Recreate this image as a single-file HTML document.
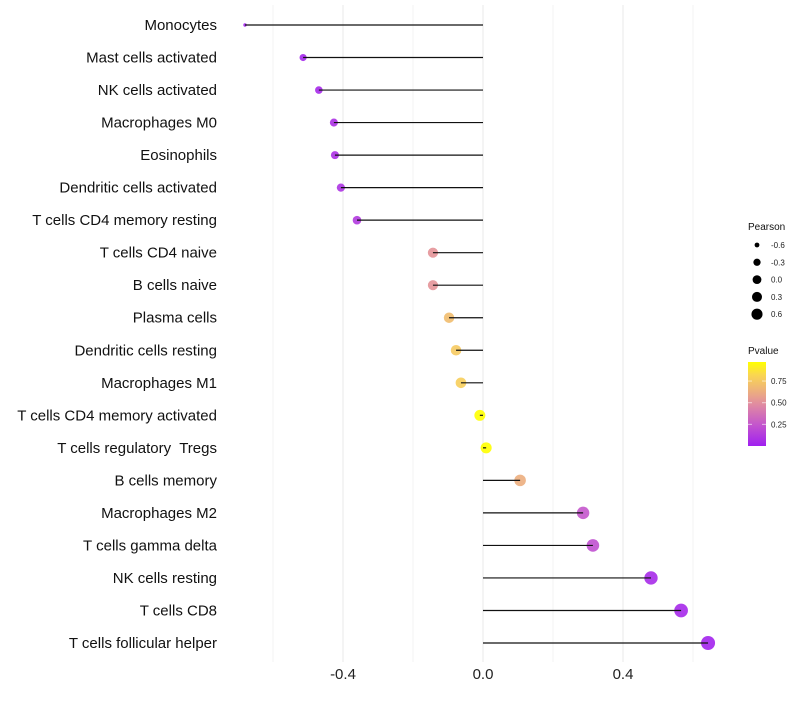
<!DOCTYPE html>
<html><head><meta charset="utf-8"><style>
body{margin:0;background:#fff}
svg text{font-family:"Liberation Sans",sans-serif;white-space:pre}
</style></head><body>
<svg id="chart" width="800" height="700" xmlns="http://www.w3.org/2000/svg">
<g id="grid"></g>
<g id="marks"></g>
<g id="ylabels"></g>
<g id="xlabels"></g>
<g id="legend"></g>
</svg>
<script>
const categories=["Monocytes","Mast cells activated","NK cells activated","Macrophages M0","Eosinophils","Dendritic cells activated","T cells CD4 memory resting","T cells CD4 naive","B cells naive","Plasma cells","Dendritic cells resting","Macrophages M1","T cells CD4 memory activated","T cells regulatory  Tregs","B cells memory","Macrophages M2","T cells gamma delta","NK cells resting","T cells CD8","T cells follicular helper"];
const pearson=[-0.68,-0.514,-0.469,-0.426,-0.423,-0.406,-0.36,-0.143,-0.143,-0.097,-0.077,-0.063,-0.009,0.009,0.106,0.286,0.314,0.48,0.566,0.643];
const pvalue=[0.02,0.03,0.04,0.08,0.08,0.09,0.12,0.52,0.52,0.7,0.76,0.78,0.97,0.97,0.63,0.25,0.22,0.05,0.04,0.02];
const xTicks=[-0.4,0,0.4];
const xTickLabels=["-0.4","0.0","0.4"];
const xMinor=[-0.6,-0.2,0.2,0.6];
const legendPearson=[-0.6,-0.3,0.0,0.3,0.6];
const legendPearsonLabels=["-0.6","-0.3","0.0","0.3","0.6"];
const legendP=[0.75,0.5,0.25];
const legendPLabels=["0.75","0.50","0.25"];

const NS="http://www.w3.org/2000/svg";
const X=v=>483+v*350;
const Y=i=>25+i*(618/19);
const R=v=>1.7+5.3*Math.sqrt(Math.max(0,(v+0.68)/1.32));
const pmin=0,pmax=0.97;
const stops=[[0,[160,32,240]],[0.25,[195,85,205]],[0.5,[225,140,160]],[0.7,[240,185,115]],[0.85,[250,215,80]],[1,[255,255,0]]];
function col(p){const t=Math.max(0,Math.min(1,(p-pmin)/(pmax-pmin)));
 for(let k=1;k<stops.length;k++){if(t<=stops[k][0]){const [t0,a]=stops[k-1],[t1,b]=stops[k];const f=(t-t0)/(t1-t0);
  return `rgb(${a.map((c,j)=>Math.round(c+(b[j]-c)*f)).join(',')})`;}}
 return 'rgb(255,255,0)';}
function mk(tag,attrs,parent){const e=document.createElementNS(NS,tag);for(const k in attrs)e.setAttribute(k,attrs[k]);parent.appendChild(e);return e;}
const grid=document.getElementById('grid'),marks=document.getElementById('marks'),yl=document.getElementById('ylabels'),xl=document.getElementById('xlabels'),lg=document.getElementById('legend');
xMinor.forEach(v=>{const l=mk('line',{x1:X(v),x2:X(v),y1:5,y2:662,stroke:'#f3f3f3','stroke-width':1},grid);

});
xTicks.forEach((v,i)=>{const l=mk('line',{x1:X(v),x2:X(v),y1:5,y2:662,stroke:'#ebebeb','stroke-width':1.1},grid);


const t=mk('text',{x:X(v),y:679,'text-anchor':'middle','font-size':15,fill:'#222'},xl);t.textContent=xTickLabels[i];

});
categories.forEach((c,i)=>{
 const y=Y(i);
 const t=mk('text',{x:217,y:y+5,'text-anchor':'end','font-size':15,fill:'#111'},yl);t.textContent=c;
 
 
 const p=mk('circle',{cx:X(pearson[i]),cy:y,r:R(pearson[i]),fill:col(pvalue[i]),'fill-opacity':0.9},marks);
 
 
 const l=mk('line',{x1:X(0),x2:X(pearson[i]),y1:y,y2:y,stroke:'#111','stroke-width':1.2},marks);
 
 
});
let t=mk('text',{x:748,y:230,'font-size':10,fill:'#111'},lg);t.textContent="Pearson";


legendPearson.forEach((v,i)=>{const y=245+i*17.3;
 const c=mk('circle',{cx:757,cy:y,r:R(v)*0.8,fill:'#000'},lg);
 
 
 const tt=mk('text',{x:771,y:y+3,'font-size':8,fill:'#222'},lg);tt.textContent=legendPearsonLabels[i];
 
 });
t=mk('text',{x:748,y:354,'font-size':10,fill:'#111'},lg);t.textContent="Pvalue";


const defs=mk('defs',{},lg);const gr=mk('linearGradient',{id:'pg',x1:0,y1:1,x2:0,y2:0},defs);
for(let f=0;f<=1.0001;f+=0.05)mk('stop',{offset:f,'stop-color':col(pmin+f*(pmax-pmin))},gr);
const bar=mk('rect',{x:748,y:362,width:18,height:84,fill:'url(#pg)'},lg);


const PY=p=>446-(p-pmin)/(pmax-pmin)*84;
legendP.forEach((p,i)=>{const y=PY(p);
 mk('line',{x1:748,x2:752,y1:y,y2:y,stroke:'#fff','stroke-opacity':0.6},lg);
 mk('line',{x1:762,x2:766,y1:y,y2:y,stroke:'#fff','stroke-opacity':0.6},lg);
 const tt=mk('text',{x:771,y:y+3,'font-size':8,fill:'#222'},lg);tt.textContent=legendPLabels[i];
 
 });
</script>
</body></html>
